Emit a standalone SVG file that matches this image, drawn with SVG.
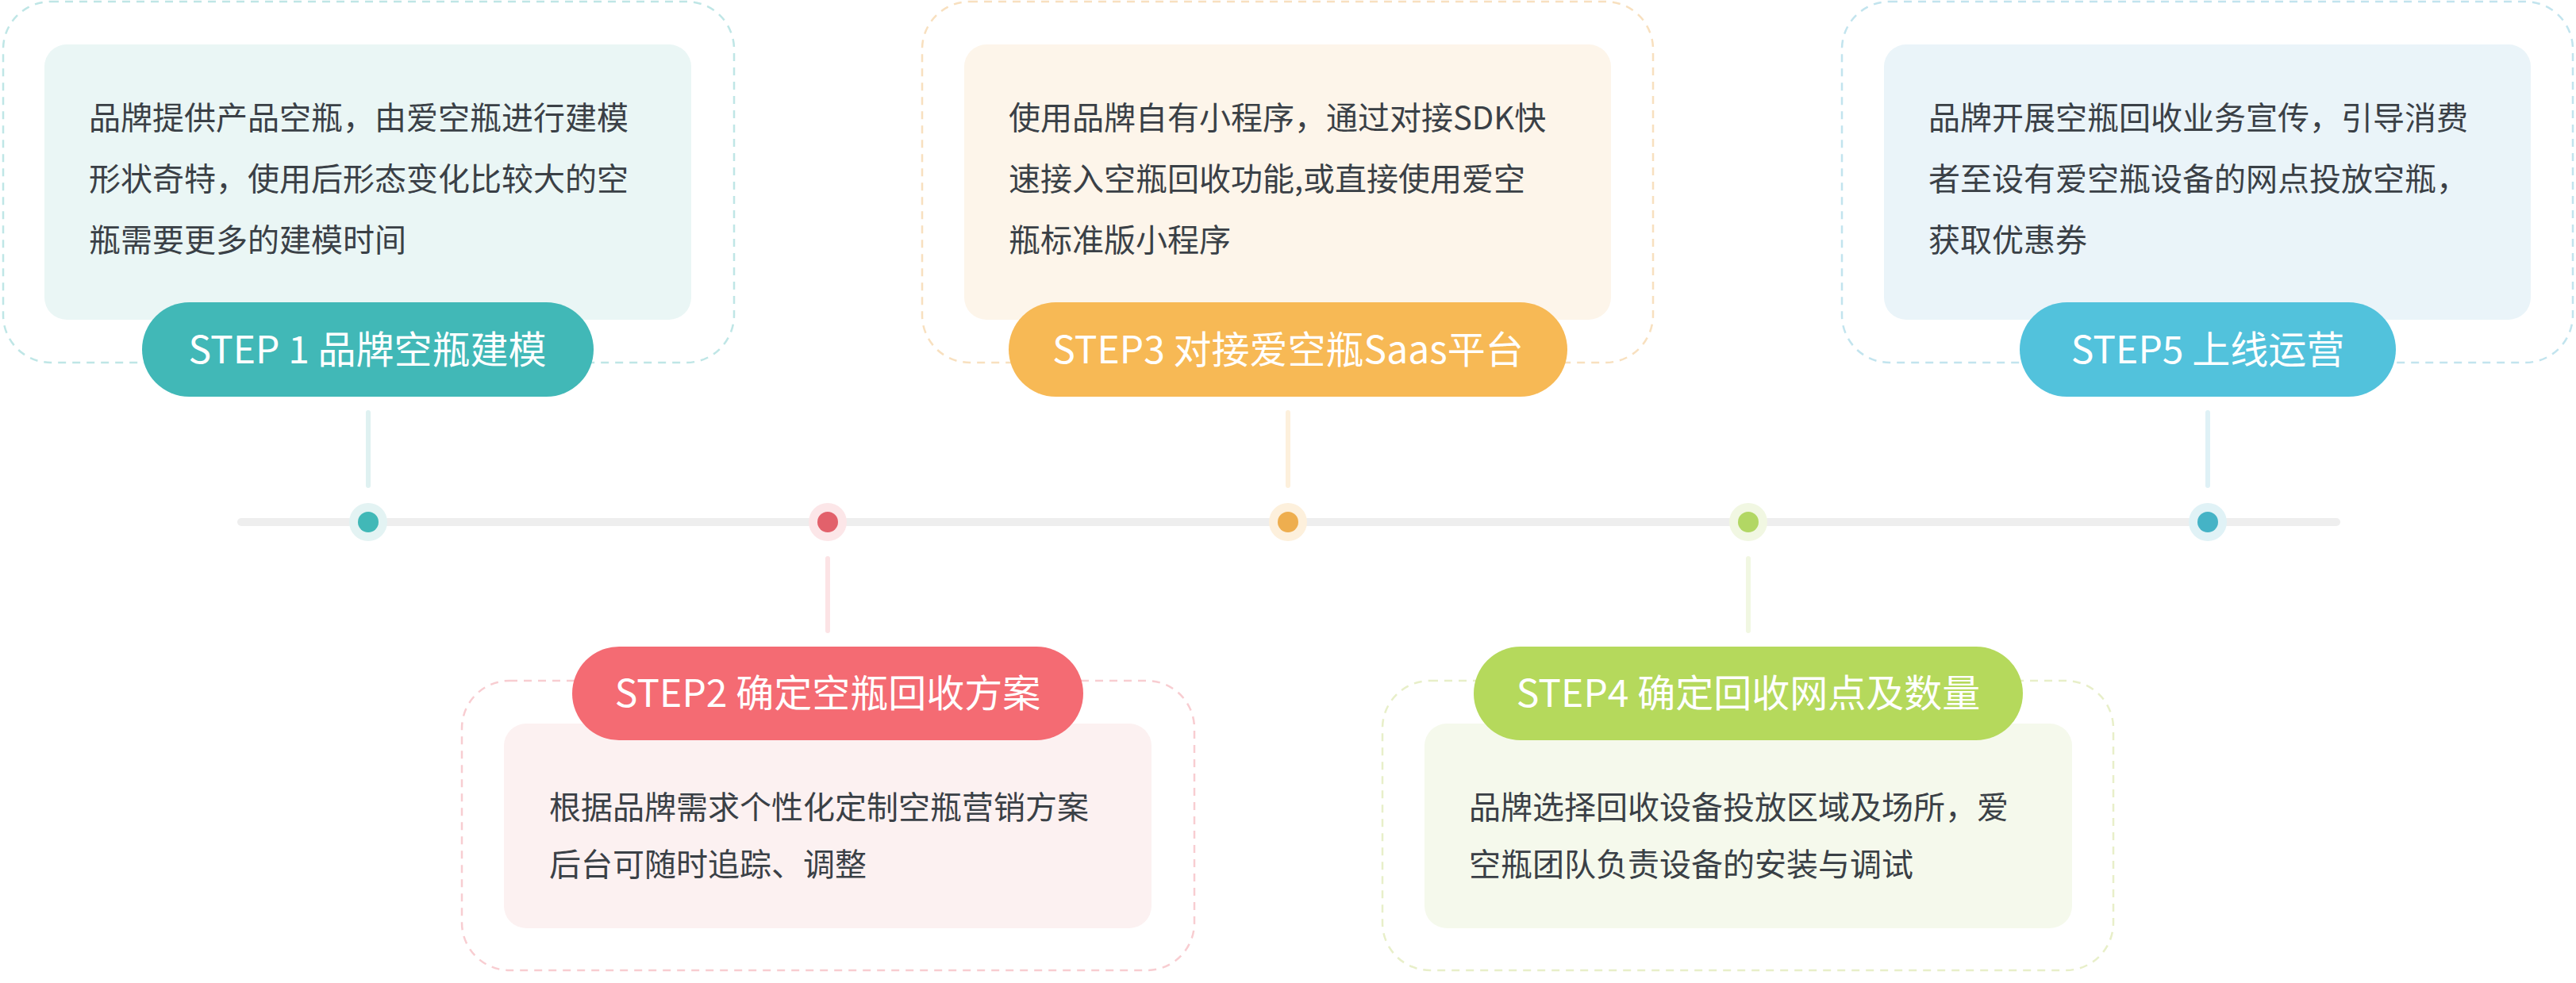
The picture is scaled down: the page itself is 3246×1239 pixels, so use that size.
<svg xmlns="http://www.w3.org/2000/svg" width="3246" height="1239" viewBox="0 0 3246 1239">
<style>
.t{font-family:"Noto Sans CJK SC","Noto Sans",sans-serif;font-size:40px;fill:#3a4046}
.p{font-family:"Noto Sans CJK SC","Noto Sans",sans-serif;font-size:48px;fill:#fff;text-anchor:middle}
.d{fill:none;stroke-width:2.5;stroke-dasharray:10 8}
</style>
<rect width="3246" height="1239" fill="#fff"/>
<g id="connectors">
<line x1="304" y1="658" x2="2944" y2="658" stroke="#eeeeee" stroke-width="10" stroke-linecap="round"/>
<line x1="464" y1="520" x2="464" y2="612" stroke="#dff1f1" stroke-width="6" stroke-linecap="round"/>
<line x1="1043" y1="704" x2="1043" y2="795" stroke="#fce3e5" stroke-width="6" stroke-linecap="round"/>
<line x1="1623" y1="520" x2="1623" y2="612" stroke="#fdf0dc" stroke-width="6" stroke-linecap="round"/>
<line x1="2203" y1="704" x2="2203" y2="795" stroke="#f1f7e2" stroke-width="6" stroke-linecap="round"/>
<line x1="2782" y1="520" x2="2782" y2="612" stroke="#dff1f6" stroke-width="6" stroke-linecap="round"/>
</g>
<g id="step1">
<rect class="d" x="4" y="2" width="921" height="455" rx="60" stroke="#bfe6e6"/>
<rect x="56" y="56" width="815" height="347" rx="28" fill="#eaf6f5"/>
<rect x="179" y="381" width="569" height="119" rx="59.5" fill="#41b8b7"/>
<text class="p" x="463" y="458">STEP 1 品牌空瓶建模</text>
<text class="t" x="112" y="163">品牌提供产品空瓶，由爱空瓶进行建模</text>
<text class="t" x="112" y="240">形状奇特，使用后形态变化比较大的空</text>
<text class="t" x="112" y="317">瓶需要更多的建模时间</text>
<circle cx="464" cy="658" r="24" fill="#e3f3f3"/><circle cx="464" cy="658" r="13" fill="#41b8b7"/>
</g>
<g id="step2">
<rect class="d" x="582" y="858" width="923" height="365" rx="60" stroke="#f8cdd1"/>
<rect x="635" y="912" width="816" height="258" rx="28" fill="#fcf1f1"/>
<rect x="721" y="815" width="644" height="118" rx="59" fill="#f46b73"/>
<text class="p" x="1043" y="891">STEP2 确定空瓶回收方案</text>
<text class="t" x="692" y="1032">根据品牌需求个性化定制空瓶营销方案</text>
<text class="t" x="692" y="1104">后台可随时追踪、调整</text>
<circle cx="1043" cy="658" r="24" fill="#fce6e8"/><circle cx="1043" cy="658" r="13" fill="#e2616b"/>
</g>
<g id="step3">
<rect class="d" x="1162" y="2" width="921" height="455" rx="60" stroke="#f8e0bf"/>
<rect x="1215" y="56" width="815" height="347" rx="28" fill="#fdf5ea"/>
<rect x="1271" y="381" width="704" height="119" rx="59.5" fill="#f7b955"/>
<text class="p" x="1623" y="458">STEP3 对接爱空瓶Saas平台</text>
<text class="t" x="1271" y="163">使用品牌自有小程序，通过对接SDK快</text>
<text class="t" x="1271" y="240">速接入空瓶回收功能,或直接使用爱空</text>
<text class="t" x="1271" y="317">瓶标准版小程序</text>
<circle cx="1623" cy="658" r="24" fill="#fdf0dc"/><circle cx="1623" cy="658" r="13" fill="#eeae4f"/>
</g>
<g id="step4">
<rect class="d" x="1742" y="858" width="921" height="365" rx="60" stroke="#e8efc9"/>
<rect x="1795" y="912" width="816" height="258" rx="28" fill="#f5f9ec"/>
<rect x="1857" y="815" width="692" height="118" rx="59" fill="#b5d95c"/>
<text class="p" x="2203" y="891">STEP4 确定回收网点及数量</text>
<text class="t" x="1851" y="1032">品牌选择回收设备投放区域及场所，爱</text>
<text class="t" x="1851" y="1104">空瓶团队负责设备的安装与调试</text>
<circle cx="2203" cy="658" r="24" fill="#f1f7e2"/><circle cx="2203" cy="658" r="13" fill="#b2d764"/>
</g>
<g id="step5">
<rect class="d" x="2321" y="2" width="921" height="455" rx="60" stroke="#c2e4ee"/>
<rect x="2374" y="56" width="815" height="347" rx="28" fill="#eaf4f9"/>
<rect x="2545" y="381" width="474" height="119" rx="59.5" fill="#52c2dc"/>
<text class="p" x="2782" y="458">STEP5 上线运营</text>
<text class="t" x="2430" y="163">品牌开展空瓶回收业务宣传，引导消费</text>
<text class="t" x="2430" y="240">者至设有爱空瓶设备的网点投放空瓶，</text>
<text class="t" x="2430" y="317">获取优惠券</text>
<circle cx="2782" cy="658" r="24" fill="#e0f2f6"/><circle cx="2782" cy="658" r="13" fill="#45b3c6"/>
</g>
</svg>
